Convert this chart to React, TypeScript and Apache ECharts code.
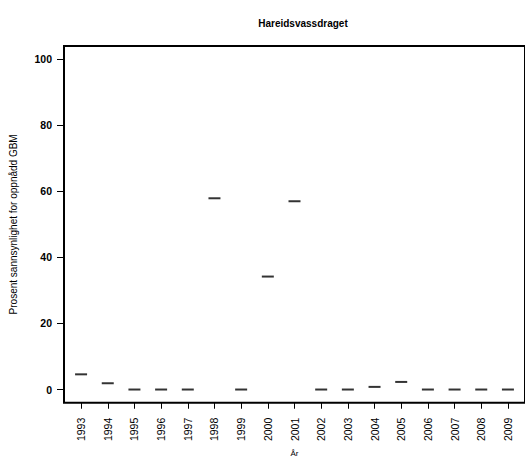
import React, { useEffect, useRef } from "react";
import * as echarts from "echarts";

const years = [1993, 1994, 1995, 1996, 1997, 1998, 1999, 2000, 2001, 2002, 2003, 2004, 2005, 2006, 2007, 2008, 2009];
const values = [4.6, 1.9, 0, 0, 0, 57.9, 0, 34.2, 57.0, 0, 0, 0.8, 2.3, 0, 0, 0, 0];
const yTicks = [0, 20, 40, 60, 80, 100];
const title = "Hareidsvassdraget";
const yName = "Prosent sannsynlighet for oppnådd GBM";
const xName = "År";

export default function App() {
  const ref = useRef<HTMLDivElement>(null);
  useEffect(() => {
    if (!ref.current) return;
    const chart = echarts.init(ref.current, null, { renderer: "svg" });
    const font = "Liberation Sans, Arial, sans-serif";
    chart.setOption({
      animation: false,
      backgroundColor: "#fff",
      title: {
        text: title,
        left: 298,
        textAlign: "center",
        top: 13,
        textStyle: { fontFamily: font, fontSize: 10, fontWeight: "bold", color: "#000" },
      },
      grid: {
        left: 63,
        top: 46,
        bottom: 53,
        right: -10,
        show: true,
        borderColor: "#000",
        borderWidth: 2,
        backgroundColor: "transparent",
      },
      xAxis: {
        type: "value",
        min: 1992.36,
        max: 2009.64,
        name: xName,
        nameLocation: "middle",
        nameGap: 46,
        nameTextStyle: { fontFamily: font, fontSize: 8, color: "#000" },
        axisLine: { show: false, onZero: false },
        axisTick: { show: true, customValues: years, length: 6, lineStyle: { color: "#000", width: 1 } },
        axisLabel: {
          customValues: years,
          rotate: 90,
          fontFamily: font,
          fontSize: 10.5,
          color: "#000",
          margin: 15,
          formatter: (v: number) => String(Math.round(v)),
        },
        splitLine: { show: false },
      },
      yAxis: {
        type: "value",
        min: -4,
        max: 104,
        name: yName,
        nameLocation: "middle",
        nameGap: 46,
        nameTextStyle: { fontFamily: font, fontSize: 10, color: "#000" },
        axisLine: { show: false, onZero: false },
        axisTick: { show: true, customValues: yTicks, length: 7, lineStyle: { color: "#000", width: 1 } },
        axisLabel: {
          customValues: yTicks,
          fontFamily: font,
          fontSize: 10.5,
          fontWeight: "bold",
          color: "#000",
          margin: 12,
        },
        splitLine: { show: false },
      },
      series: [
        {
          type: "scatter",
          data: years.map((y, i) => [y, values[i]]),
          symbol: "rect",
          symbolSize: [12, 2],
          itemStyle: { color: "#000" },
          silent: true,
        },
      ],
    });
    return () => chart.dispose();
  }, []);
  return <div ref={ref} style={{ width: 525, height: 462, position: "absolute", left: 0, top: 0 }} />;
}
